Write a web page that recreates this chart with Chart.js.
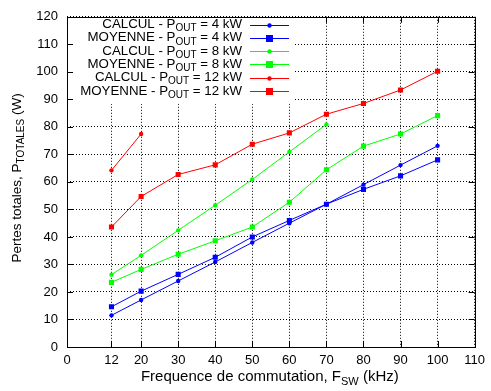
<!DOCTYPE html>
<html>
<head>
<meta charset="utf-8">
<script src="https://cdn.jsdelivr.net/npm/chart.js@4"></script>
<style>
body { margin: 0; background: #fff; }
canvas { display: block; }
</style>
</head>
<body>
<canvas id="myChart" width="491" height="391"></canvas>
<script>
var freqs = [12, 20, 30, 40, 50, 60, 70, 80, 90, 100];
var calcul4 = [11.5, 17.1, 24.0, 30.9, 38.0, 45.0, 51.9, 59.0, 66.1, 73.1];
var moyenne4 = [14.6, 20.3, 26.4, 32.6, 40.0, 46.0, 51.9, 57.3, 62.2, 68.0];
var calcul8 = [26.3, 33.3, 42.4, 51.5, 60.9, 70.9, 80.9];
var moyenne8 = [23.5, 28.2, 33.7, 38.6, 43.6, 52.6, 64.4, 73.0, 77.4, 84.1];
var calcul12 = [64.2, 77.4];
var moyenne12 = [43.6, 54.7, 62.7, 66.2, 73.7, 77.8, 84.6, 88.5, 93.4, 100.2];
var xTicks = [0, 12, 20, 30, 40, 50, 60, 70, 80, 90, 100, 110];

var legendRows = [
    ['CALCUL - P', 'OUT', ' = 4 kW'],
    ['MOYENNE - P', 'OUT', ' = 4 kW'],
    ['CALCUL - P', 'OUT', ' = 8 kW'],
    ['MOYENNE - P', 'OUT', ' = 8 kW'],
    ['CALCUL - P', 'OUT', ' = 12 kW'],
    ['MOYENNE - P', 'OUT', ' = 12 kW']
];

var FONT = '"Liberation Sans", Arial, sans-serif';

function pts(vals) {
    return vals.map(function (v, i) { return { x: freqs[i], y: v }; });
}

function serie(vals, color, calc) {
    return {
        data: pts(vals),
        borderColor: color,
        backgroundColor: color,
        borderWidth: 1,
        pointStyle: calc ? 'circle' : 'rect',
        pointRadius: calc ? 2.2 : 3.6,
        pointHoverRadius: calc ? 2.2 : 3.6,
        pointBorderWidth: 0,
        tension: 0
    };
}

// text with a subscript part, returns total width
function subText(ctx, parts, x, y, align, size) {
    var big = size + 'px ' + FONT, small = Math.round(size * 0.75) + 'px ' + FONT;
    ctx.font = big; var w0 = ctx.measureText(parts[0]).width;
    ctx.font = small; var w1 = ctx.measureText(parts[1]).width;
    ctx.font = big; var w2 = ctx.measureText(parts[2]).width;
    var w = w0 + w1 + w2;
    var sx = align == 'right' ? x - w : (align == 'center' ? x - w / 2 : x);
    ctx.textAlign = 'left';
    ctx.textBaseline = 'middle';
    ctx.fillStyle = '#000';
    ctx.font = big; ctx.fillText(parts[0], sx, y);
    ctx.font = small; ctx.fillText(parts[1], sx + w0, y + size * 0.3);
    ctx.font = big; ctx.fillText(parts[2], sx + w0 + w1, y);
    return w;
}

var decor = {
    id: 'decor',
    beforeDatasetsDraw: function (chart) {
        var ctx = chart.ctx, a = chart.chartArea;
        var xs = chart.scales.x, ys = chart.scales.y;
        ctx.save();
        // legend box hides the grid
        ctx.fillStyle = '#fff';
        ctx.fillRect(a.left + 1, a.top + 1, 227, 86);
        // inward ticks
        ctx.strokeStyle = '#000';
        ctx.lineWidth = 1;
        ctx.beginPath();
        xTicks.forEach(function (v) {
            var px = Math.round(xs.getPixelForValue(v)) + 0.5;
            ctx.moveTo(px, a.bottom); ctx.lineTo(px, a.bottom - 6);
            if (px > a.left + 228) { ctx.moveTo(px, a.top); ctx.lineTo(px, a.top + 6); }
        });
        for (var v = 0; v <= 120; v += 10) {
            var py = Math.round(ys.getPixelForValue(v)) + 0.5;
            ctx.moveTo(a.left, py); ctx.lineTo(a.left + 6, py);
            ctx.moveTo(a.right, py); ctx.lineTo(a.right - 6, py);
        }
        ctx.stroke();
        ctx.strokeRect(Math.round(a.left) + 0.5, Math.round(a.top) + 0.5,
            Math.round(a.right - a.left), Math.round(a.bottom - a.top));
        ctx.restore();
    },
    afterDatasetsDraw: function (chart) {
        var ctx = chart.ctx, a = chart.chartArea;
        ctx.save();
        chart.data.datasets.forEach(function (ds, i) {
            var y = 24.5 + i * 13.3;
            subText(ctx, legendRows[i], 242, y, 'right', 13.3);
            ctx.strokeStyle = ds.borderColor;
            ctx.lineWidth = 1;
            ctx.beginPath();
            ctx.moveTo(250, Math.round(y) + 0.5); ctx.lineTo(289, Math.round(y) + 0.5);
            ctx.stroke();
            ctx.fillStyle = ds.borderColor;
            if (ds.pointStyle == 'rect') ctx.fillRect(266, Math.round(y) - 3, 7, 7);
            else { ctx.beginPath(); ctx.arc(269.5, Math.round(y) + 0.5, 2.2, 0, Math.PI * 2); ctx.fill(); }
        });
        // axis titles
        var cx = (a.left + a.right) / 2;
        subText(ctx, ['Frequence de commutation, F', 'SW', ' (kHz)'], cx - 1, 377, 'center', 15);
        ctx.translate(17, (a.top + a.bottom) / 2 - 4);
        ctx.rotate(-Math.PI / 2);
        subText(ctx, ['Pertes totales, P', 'TOTALES', ' (W)'], 0, 0, 'center', 13.5);
        ctx.restore();
    }
};

var gridStyle = {
    color: '#000',
    lineWidth: 1,
    drawTicks: false
};

var chart_p = new Chart(document.getElementById('myChart'), {
    type: 'line',
    data: {
        datasets: [
            serie(calcul4, '#0000ff', true),
            serie(moyenne4, '#0000ff', false),
            serie(calcul8, '#00ff00', true),
            serie(moyenne8, '#00ff00', false),
            serie(calcul12, '#ff0000', true),
            serie(moyenne12, '#ff0000', false)
        ]
    },
    options: {
        responsive: false,
        animation: false,
        layout: { padding: { top: 13, right: 13, left: 0, bottom: 0 } },
        plugins: { legend: { display: false }, tooltip: { enabled: false } },
        scales: {
            x: {
                type: 'linear',
                min: 0,
                max: 110,
                afterBuildTicks: function (axis) {
                    axis.ticks = xTicks.map(function (v) { return { value: v }; });
                },
                afterFit: function (s) { s.height = 44; },
                grid: Object.assign({}, gridStyle),
                border: { display: false, dash: [1, 2] },
                ticks: { color: '#000', padding: 6, maxRotation: 0, autoSkip: false, font: { family: FONT, size: 13 } }
            },
            y: {
                min: 0,
                max: 120,
                afterFit: function (s) { s.width = 67; },
                grid: Object.assign({}, gridStyle),
                border: { display: false, dash: [1, 2] },
                ticks: { stepSize: 10, color: '#000', padding: 9, font: { family: FONT, size: 13 } }
            }
        }
    },
    plugins: [decor]
});
</script>
</body>
</html>
